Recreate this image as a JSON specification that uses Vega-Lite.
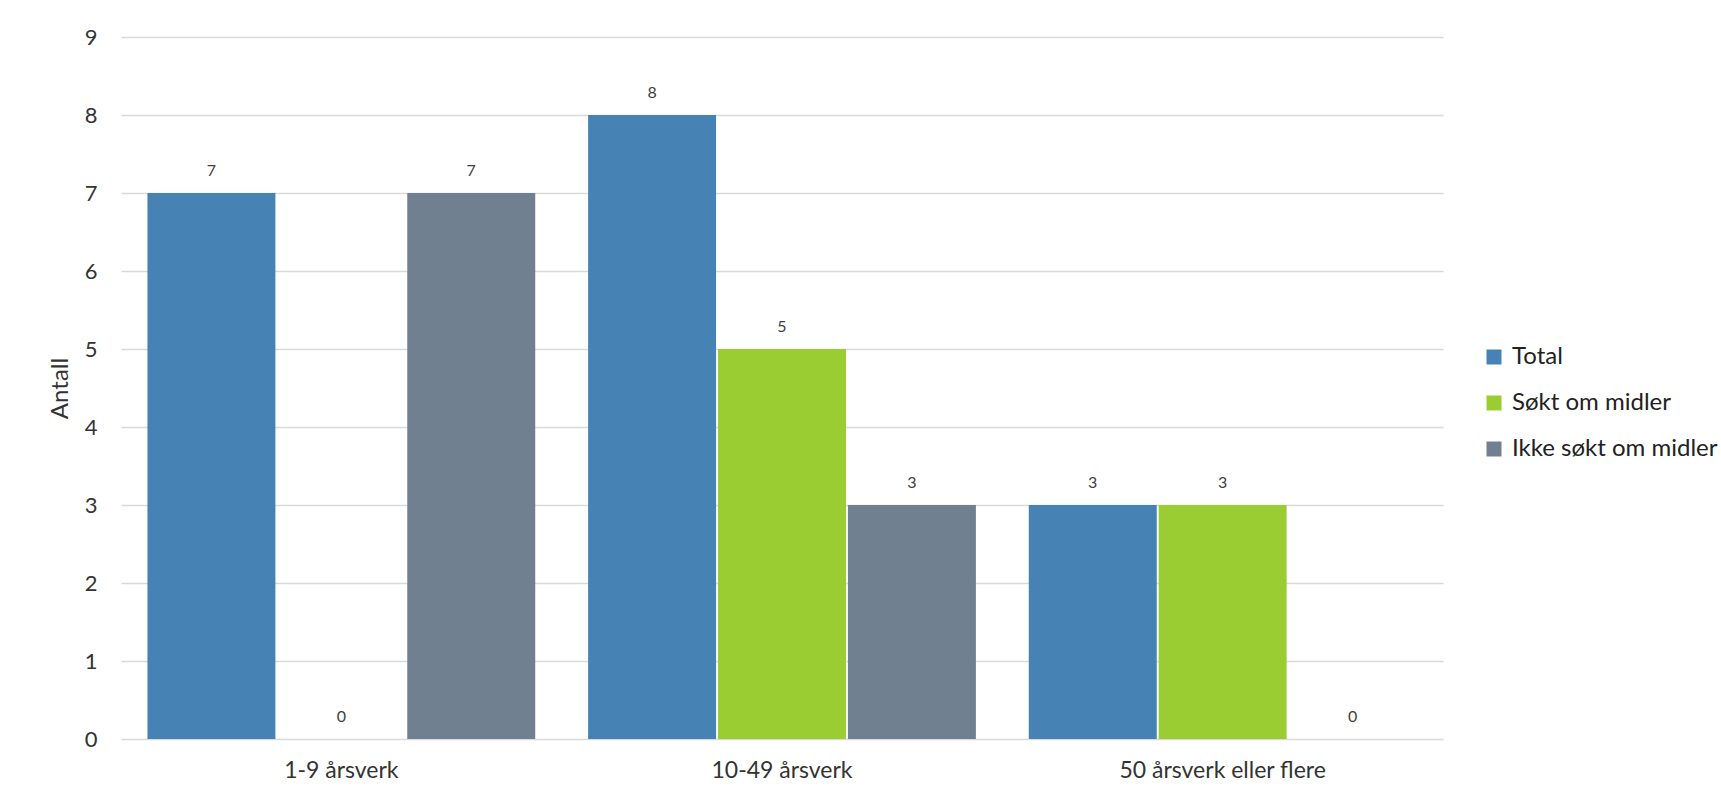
{
  "$schema": "https://vega.github.io/schema/vega-lite/v6.json",
  "autosize": {"type": "none"},
  "padding": {"left": 121, "top": 37, "right": 278, "bottom": 60},
  "width": 1322,
  "height": 702,
  "background": "white",
  "config": {
    "font": "Lato",
    "view": {"stroke": null},
    "axis": {"labelColor": "#333333", "titleColor": "#333333", "labelFont": "Lato", "titleFont": "Lato"}
  },
  "data": {
    "values": [
      {"gruppe": "1-9 årsverk", "serie": "Total", "antall": 7},
      {"gruppe": "1-9 årsverk", "serie": "Søkt om midler", "antall": 0},
      {"gruppe": "1-9 årsverk", "serie": "Ikke søkt om midler", "antall": 7},
      {"gruppe": "10-49 årsverk", "serie": "Total", "antall": 8},
      {"gruppe": "10-49 årsverk", "serie": "Søkt om midler", "antall": 5},
      {"gruppe": "10-49 årsverk", "serie": "Ikke søkt om midler", "antall": 3},
      {"gruppe": "50 årsverk eller flere", "serie": "Total", "antall": 3},
      {"gruppe": "50 årsverk eller flere", "serie": "Søkt om midler", "antall": 3},
      {"gruppe": "50 årsverk eller flere", "serie": "Ikke søkt om midler", "antall": 0}
    ]
  },
  "encoding": {
    "x": {
      "field": "gruppe", "type": "nominal", "sort": null,
      "scale": {"paddingInner": 0.12, "paddingOuter": 0.06},
      "axis": {"title": null, "labelAngle": 0, "ticks": false, "domain": false, "labelFontSize": 23, "labelPadding": 20, "labelLimit": 0, "labelColor": "#333333"}
    },
    "xOffset": {
      "field": "serie", "type": "nominal",
      "sort": ["Total", "Søkt om midler", "Ikke søkt om midler"],
      "scale": {"paddingInner": 0.015}
    },
    "y": {
      "field": "antall", "type": "quantitative",
      "scale": {"domain": [0, 9], "nice": false},
      "axis": {"title": "Antall", "values": [0, 1, 2, 3, 4, 5, 6, 7, 8, 9], "labelOverlap": false, "ticks": false, "domain": false, "labelFontSize": 22, "labelPadding": 24, "titleFontSize": 24, "titleFontWeight": "normal", "titlePadding": 12, "gridColor": "#d9d9d9", "gridWidth": 1.5}
    }
  },
  "layer": [
    {
      "mark": {"type": "bar"},
      "encoding": {
        "color": {
          "field": "serie", "type": "nominal",
          "sort": ["Total", "Søkt om midler", "Ikke søkt om midler"],
          "scale": {"domain": ["Total", "Søkt om midler", "Ikke søkt om midler"], "range": ["#4682b4", "#9acd32", "#708090"]},
          "legend": {
            "title": null, "orient": "none", "legendX": 1361, "legendY": 308,
            "symbolType": "square", "symbolSize": 225, "symbolStrokeWidth": 0,
            "labelFontSize": 24, "labelLimit": 0, "labelColor": "#222222", "labelFont": "Lato", "rowPadding": 22, "labelOffset": 6
          }
        }
      }
    },
    {
      "mark": {"type": "text", "baseline": "bottom", "dy": -14, "fontSize": 16, "color": "#404040"},
      "encoding": {"text": {"field": "antall", "type": "quantitative"}}
    }
  ]
}
